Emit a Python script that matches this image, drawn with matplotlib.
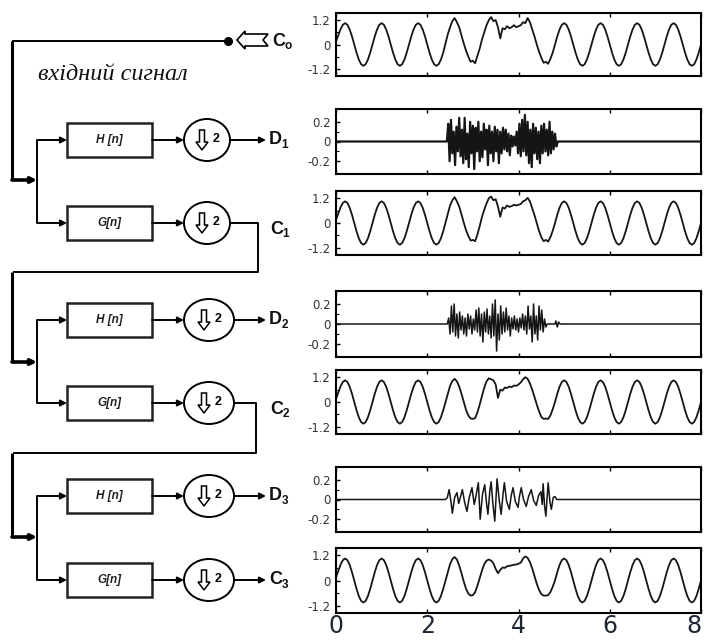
import numpy as np
import matplotlib
matplotlib.use('Agg')
import matplotlib.pyplot as plt
from matplotlib.patches import Rectangle, Ellipse, Polygon

W, H = 705, 643

# ---- signal data ----
# approximation signal, x = 0..8 step 0.05, clean part
c_base = [
    0.15, 0.45, 0.76, 0.97, 1.05, 0.97, 0.74, 0.40, 0.00, -0.40, -0.74, -0.97, -1.05, -0.97, -0.74, -0.40,
    0.00, 0.40, 0.74, 0.97, 1.05, 0.97, 0.74, 0.40, 0.00, -0.40, -0.74, -0.97, -1.05, -0.97, -0.74, -0.40,
    0.00, 0.40, 0.74, 0.97, 1.05, 0.97, 0.74, 0.40, 0.00, -0.40, -0.74, -0.97, -1.05, -0.97, -0.74, -0.40,
    0.00, 0.40, 0.74, 0.97, 1.05, 0.97, 0.74, 0.40, 0.00, -0.40, -0.74, -0.97, -1.05, -0.97, -0.74, -0.40,
    0.00, 0.40, 0.74, 0.97, 1.05, 0.97, 0.74, 0.40, 0.00, -0.40, -0.74, -0.97, -1.05, -0.97, -0.74, -0.40,
    0.00, 0.40, 0.74, 0.97, 1.05, 0.97, 0.74, 0.40, 0.00, -0.40, -0.74, -0.97, -1.05, -0.97, -0.74, -0.40,
    0.00, 0.40, 0.74, 0.97, 1.05, 0.97, 0.74, 0.40, 0.00, -0.40, -0.74, -0.97, -1.05, -0.97, -0.74, -0.40,
    0.00, 0.40, 0.74, 0.97, 1.05, 0.97, 0.74, 0.40, 0.00, -0.40, -0.74, -0.97, -1.05, -0.97, -0.74, -0.40,
    0.00, 0.40, 0.74, 0.97, 1.05, 0.97, 0.74, 0.40, 0.00, -0.40, -0.74, -0.97, -1.05, -0.97, -0.74, -0.40,
    0.00, 0.40, 0.74, 0.97, 1.05, 0.97, 0.74, 0.40, 0.00, -0.40, -0.74, -0.97, -1.05, -0.97, -0.74, -0.40,
    0.00,
]
seg_start = 48  # disturbed part, x = 2.40 .. 4.80

c0_seg = [0.05, 0.50, 0.85, 1.15, 1.30, 1.10, 0.85, 0.45, 0.05, -0.30,
          -0.60, -0.85, -0.80, -0.92, -0.55, -0.20, 0.25, 0.60, 0.95, 1.20,
          1.35, 1.15, 1.20, 0.85, 0.30, 0.80, 0.75, 0.90, 0.80, 0.85,
          0.95, 0.85, 0.90, 0.95, 1.10, 1.05, 1.30, 1.10, 0.75, 0.40,
          0.00, -0.35, -0.65, -0.90, -0.85, -0.95, -0.70, -0.40, 0.00]
c1_seg = [0.02, 0.45, 0.85, 1.10, 1.25, 1.05, 0.80, 0.42, 0.02, -0.35,
          -0.62, -0.85, -0.82, -0.88, -0.55, -0.15, 0.30, 0.65, 0.95, 1.20,
          1.28, 1.10, 1.15, 0.80, 0.30, 0.75, 0.70, 0.85, 0.78, 0.82,
          0.88, 0.85, 0.88, 0.92, 1.05, 1.10, 1.22, 1.05, 0.72, 0.38,
          0.00, -0.38, -0.68, -0.88, -0.82, -0.90, -0.68, -0.38, 0.00]
c2_seg = [0.00, 0.42, 0.78, 1.02, 1.12, 1.00, 0.75, 0.40, 0.00, -0.38,
          -0.65, -0.80, -0.82, -0.78, -0.50, -0.12, 0.30, 0.70, 1.00, 1.15,
          1.10, 1.05, 0.85, 0.20, 0.60, 0.55, 0.70, 0.68, 0.75, 0.72,
          0.80, 0.78, 0.85, 0.95, 1.10, 1.20, 1.12, 0.90, 0.60, 0.25,
          -0.12, -0.45, -0.72, -0.82, -0.80, -0.82, -0.65, -0.35, 0.00]
c3_seg = [0.00, 0.42, 0.78, 1.02, 1.12, 1.00, 0.72, 0.35, -0.05, -0.40,
          -0.62, -0.72, -0.70, -0.55, -0.25, 0.12, 0.48, 0.78, 0.95, 1.00,
          0.95, 0.82, 0.55, 0.35, 0.50, 0.62, 0.60, 0.68, 0.70, 0.72,
          0.75, 0.76, 0.80, 0.85, 1.05, 1.15, 1.08, 0.88, 0.58, 0.22,
          -0.15, -0.45, -0.65, -0.72, -0.72, -0.70, -0.55, -0.30, 0.00]

# detail D1: dense burst, x from 2.46 step 0.03
d1_burst = [0.18, -0.20, 0.22, -0.12, 0.10, -0.24, 0.15, -0.10, 0.24, -0.15,
            0.12, -0.22, 0.24, -0.18, 0.08, -0.26, 0.20, -0.12, 0.16, -0.28,
            0.14, -0.10, 0.20, -0.20, 0.10, -0.16, 0.18, -0.08, 0.12, -0.24,
            0.16, -0.12, 0.10, -0.20, 0.15, -0.10, 0.12, -0.22, 0.10, -0.12,
            0.14, -0.08, 0.12, -0.10, 0.08, -0.14, 0.06, -0.05, 0.05, -0.04,
            0.10, -0.12, 0.18, -0.15, 0.22, -0.10, 0.27, -0.14, 0.20, -0.22,
            0.12, -0.26, 0.18, -0.12, 0.14, -0.18, 0.10, -0.22, 0.16, -0.12,
            0.18, -0.10, 0.12, -0.14, 0.20, -0.12, 0.10, -0.08, 0.08, -0.05]
# detail D2: burst, x from 2.47 step 0.03
d2_burst = [0.06, -0.10, 0.18, -0.08, 0.20, -0.12, 0.10, -0.14, 0.12, -0.06,
            0.08, -0.10, 0.06, -0.12, 0.10, -0.05, 0.08, -0.10, 0.05, -0.06,
            0.14, -0.08, 0.16, -0.12, 0.10, -0.18, 0.12, -0.08, 0.15, -0.10,
            0.08, -0.14, 0.20, -0.12, 0.24, -0.27, 0.10, -0.16, 0.18, -0.10,
            0.12, -0.08, 0.16, -0.06, 0.08, -0.12, 0.06, -0.05, 0.08, -0.06,
            0.05, -0.08, 0.06, -0.04, 0.10, -0.06, 0.08, -0.10, 0.18, -0.05,
            0.08, -0.18, 0.20, -0.10, 0.08, -0.16, 0.18, -0.06, 0.14, -0.08,
            0.05, -0.03]
d2_blip_x = [4.80, 4.82, 4.85, 4.88, 4.91]
d2_blip_y = [0.00, 0.03, -0.03, 0.02, 0.00]
# detail D3: turning points of the burst
d3_x = [0.00, 2.40, 2.44, 2.48, 2.52, 2.55, 2.60, 2.65, 2.69, 2.73, 2.77, 2.82, 2.87,
        2.92, 2.98, 3.03, 3.07, 3.12, 3.16, 3.21, 3.26, 3.30, 3.33, 3.37, 3.40,
        3.44, 3.48, 3.53, 3.58, 3.62, 3.66, 3.69, 3.74, 3.80, 3.84, 3.88, 3.93,
        3.99, 4.02, 4.06, 4.11, 4.17, 4.22, 4.28, 4.33, 4.39, 4.44, 4.49, 4.52,
        4.54, 4.57, 4.60, 4.63, 4.65, 4.69, 4.72, 4.76, 4.80, 4.84, 8.00]
d3_y = [0.00, 0.00, 0.02, 0.10, -0.02, -0.14, 0.02, 0.07, -0.04, 0.03, 0.10, -0.03, -0.12,
        0.02, 0.12, -0.05, 0.04, 0.17, -0.20, 0.05, 0.15, -0.04, -0.15, 0.08, 0.18,
        -0.05, -0.22, 0.21, -0.02, -0.15, 0.05, 0.17, -0.02, -0.10, 0.04, 0.12, -0.02,
        -0.08, 0.03, 0.12, 0.00, -0.07, 0.03, 0.10, -0.01, -0.06, 0.04, 0.08, -0.05,
        0.16, -0.06, -0.17, 0.04, 0.17, -0.03, -0.10, 0.02, 0.03, 0.00, 0.00]

c_ticks = [-1.2, 0, 1.2]
c_ticklabels = ['-1.2', '0', '1.2']
d_ticks = [-0.2, 0, 0.2]
d_ticklabels = ['-0.2', '0', '0.2']
x_ticks = [0, 2, 4, 6, 8]

c_x = np.linspace(0, 8, len(c_base))


def with_segment(seg):
    y = np.array(c_base, dtype=float)
    y[seg_start:seg_start + len(seg)] = seg
    return y


def burst_series(start, step, vals, extra_x=(), extra_y=()):
    bx = start + step * np.arange(len(vals))
    end = bx[-1] + step
    x = np.concatenate([[0.0, start - step], bx, [end], extra_x, [8.0]])
    y = np.concatenate([[0.0, 0.0], vals, [0.0], extra_y, [0.0]])
    order = np.argsort(x, kind='stable')
    return x[order], y[order]


fig = plt.figure(figsize=(W / 100, H / 100), dpi=100)


def px_box(left, top, right, bottom):
    return [left / W, 1 - bottom / H, (right - left) / W, (bottom - top) / H]


ax_left, ax_right = 336, 701
panels = [
    ('C', 13, 76, c_x, with_segment(c0_seg), 1.3),
    ('D', 109, 174) + burst_series(2.46, 0.03, d1_burst) + (1.6,),
    ('C', 191, 255, c_x, with_segment(c1_seg), 1.3),
    ('D', 291, 357) + burst_series(2.47, 0.03, d2_burst, d2_blip_x, d2_blip_y) + (1.1,),
    ('C', 370, 434, c_x, with_segment(c2_seg), 1.3),
    ('D', 467, 532, np.array(d3_x), np.array(d3_y), 1.1),
    ('C', 548, 613, c_x, with_segment(c3_seg), 1.3),
]

for i, (kind, top, bottom, xs, ys, lw) in enumerate(panels):
    ax = fig.add_axes(px_box(ax_left, top, ax_right, bottom))
    ax.plot(xs, ys, color='#151515', lw=lw)
    ax.set_xlim(0, 8)
    if kind == 'C':
        ax.set_ylim(-1.55, 1.55)
        ax.set_yticks(c_ticks)
        ax.set_yticklabels(c_ticklabels)
        ax.set_yticks([-0.6, 0.6], minor=True)
    else:
        ax.set_ylim(-0.33, 0.33)
        ax.set_yticks(d_ticks)
        ax.set_yticklabels(d_ticklabels)
        ax.set_yticks([-0.1, 0.1], minor=True)
    ax.set_xticks(x_ticks)
    ax.tick_params(axis='both', which='major', direction='in', length=3, width=1,
                   top=True, labelsize=8.5, labelcolor='#333333', pad=4)
    ax.tick_params(axis='y', which='minor', direction='in', length=2, width=0.8)
    if i == len(panels) - 1:
        ax.tick_params(axis='x', labelsize=17, pad=1, labelcolor='#1f2533')
        ax.get_xticklabels()[-1].set_horizontalalignment('right')
    else:
        ax.tick_params(axis='x', labelbottom=False)
    for sp in ax.spines.values():
        sp.set_linewidth(1.5)

# ---- block diagram on the left (pixel coordinates) ----
d = fig.add_axes([0, 0, 1, 1], zorder=-1)
d.set_xlim(0, W)
d.set_ylim(H, 0)
d.axis('off')

LW = 1.4


def line(xs, ys, lw=LW):
    d.plot(xs, ys, color='k', lw=lw, solid_capstyle='butt')


def arrow(x0, y0, x1, y1, lw=LW, ms=9):
    d.annotate('', xy=(x1, y1), xytext=(x0, y0),
               arrowprops=dict(arrowstyle='-|>', lw=lw, color='k', mutation_scale=ms,
                               shrinkA=0, shrinkB=0))


def sig_label(x, y, main, sub):
    t = d.text(x, y, main, fontsize=13, fontweight='bold', family='Liberation Sans',
               va='center', ha='left', color='#111111')
    d.text(x + 12.5, y + 5, sub, fontsize=8.5, fontweight='bold', family='Liberation Sans',
           va='center', ha='left', color='#111111')
    return t


def down2(cx, cy, w, h):
    d.add_patch(Ellipse((cx, cy), w, h, fill=False, lw=LW, ec='k'))
    ax0 = cx - 5
    pts = [(ax0 - 2.5, cy - 10), (ax0 + 2.5, cy - 10), (ax0 + 2.5, cy + 2),
           (ax0 + 6, cy + 2), (ax0, cy + 10), (ax0 - 6, cy + 2), (ax0 - 2.5, cy + 2)]
    d.add_patch(Polygon(pts, closed=True, fill=False, lw=1.1, ec='k'))
    d.text(cx + 9, cy - 1, '2', fontsize=9, fontweight='bold', family='Liberation Sans',
           ha='center', va='center')


def block(cy, label):
    d.add_patch(Rectangle((67, cy - 17), 85, 34, fill=False, lw=1.8, ec='#222222'))
    d.text(109.5, cy, label, fontsize=8.5, fontweight='bold', style='italic',
           family='Liberation Sans', ha='center', va='center', color='#222222')


# input
line([12, 228], [41, 41])
d.plot([228], [41], 'o', color='k', ms=5.5)
d.add_patch(Polygon([(237, 40), (245, 31), (245, 34), (268, 34), (263, 40),
                     (268, 46), (245, 46), (245, 49)], closed=True, fill=False,
                    lw=1.2, ec='k'))
sig_label(272, 41, 'C', 'o')
d.text(38, 75, 'вхідний сигнал', fontsize=17.5, style='italic', family='Liberation Serif',
       ha='left', va='center', color='#111111')

rows = [
    dict(h=140, g=223, feed=180, cx=207, cw=46, k='1', back=272, bx=258),
    dict(h=320, g=403, feed=362, cx=209, cw=50, k='2', back=453, bx=256),
    dict(h=496, g=580, feed=537, cx=209, cw=50, k='3', back=None, bx=None),
]

prev_y = 41
for r in rows:
    line([12, 12], [prev_y, r['feed']], lw=2.2)
    arrow(12, r['feed'], 37, r['feed'], lw=2.6, ms=8)
    line([37, 37], [r['h'], r['g']])
    for yy, lab in ((r['h'], 'H [n]'), (r['g'], 'G[n]')):
        arrow(37, yy, 67, yy)
        block(yy, lab)
        arrow(152, yy, r['cx'] - r['cw'] / 2, yy)
        down2(r['cx'], yy, r['cw'], 42)
    right = r['cx'] + r['cw'] / 2
    arrow(right, r['h'], 266, r['h'])
    sig_label(269, r['h'], 'D', r['k'])
    if r['back'] is None:
        arrow(right, r['g'], 266, r['g'])
        sig_label(269, r['g'], 'C', r['k'])
    else:
        line([right, r['bx'], r['bx'], 13, 13],
             [r['g'], r['g'], r['back'], r['back'], r['back']])
        sig_label(270, r['g'] + 6, 'C', r['k'])
        prev_y = r['back']

fig.savefig('out.png', dpi=100)
